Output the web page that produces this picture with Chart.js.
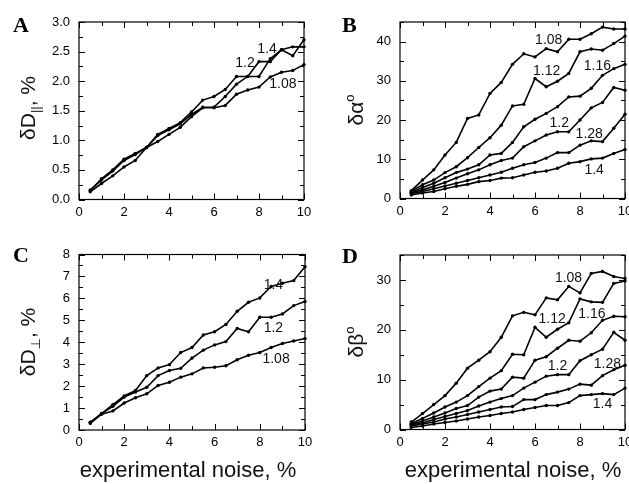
<!DOCTYPE html>
<html><head><meta charset="utf-8">
<script src="https://cdn.jsdelivr.net/npm/chart.js@4/dist/chart.umd.min.js"></script>
<style>
html,body{margin:0;padding:0;background:#fff;width:629px;height:484px;overflow:hidden;position:relative}
canvas{position:absolute}
</style></head><body>
<canvas id="cA" width="314" height="232" style="left:0px;top:0px"></canvas>
<canvas id="cB" width="315" height="232" style="left:314px;top:0px"></canvas>
<canvas id="cC" width="314" height="252" style="left:0px;top:232px"></canvas>
<canvas id="cD" width="315" height="252" style="left:314px;top:232px"></canvas>
<script>
// ---- data ----
const noise = [0.5,1,1.5,2,2.5,3,3.5,4,4.5,5,5.5,6,6.5,7,7.5,8,8.5,9,9.5,10];

// A: dD_parallel, %
const dPar108 = [0.13,0.27,0.40,0.55,0.66,0.88,0.98,1.10,1.22,1.40,1.55,1.55,1.59,1.78,1.85,1.90,2.07,2.15,2.18,2.28];
const dPar12  = [0.15,0.35,0.50,0.68,0.78,0.88,1.10,1.20,1.30,1.48,1.68,1.74,1.86,2.08,2.08,2.33,2.33,2.53,2.58,2.58];
const dPar14  = [0.16,0.33,0.48,0.66,0.76,0.88,1.08,1.18,1.28,1.44,1.56,1.56,1.74,1.95,2.08,2.08,2.38,2.53,2.43,2.70];

// B: d alpha, deg
const dAl108 = [2.0,4.7,7.3,11.1,14.3,20.4,21.3,26.8,29.6,34.2,36.9,36.1,38.2,37.4,40.6,40.6,42.0,43.7,43.2,43.2];
const dAl112 = [1.8,3.5,4.7,6.6,8.1,10.4,13.0,15.5,18.7,23.6,24.0,30.6,28.5,29.9,31.9,37.4,38.1,37.8,39.5,41.4];
const dAl116 = [1.5,2.8,3.9,5.3,6.6,7.5,8.6,11.1,11.5,14.3,18.3,20.2,21.7,23.4,25.9,26.1,28.1,31.4,33.1,34.2];
const dAl12  = [1.4,2.2,3.1,4.1,5.2,6.3,7.3,8.6,9.7,10.3,13.2,14.7,16.2,17.0,17.0,20.0,23.1,24.5,28.3,27.6];
const dAl128 = [1.2,1.8,2.5,3.2,3.9,4.6,5.3,6.0,6.7,7.7,8.6,9.2,10.3,11.7,11.7,13.6,14.7,14.5,17.9,21.5];
const dAl14  = [0.9,1.4,1.8,2.5,3.1,3.6,4.3,4.6,5.2,5.3,6.0,6.7,7.0,7.7,9.0,9.4,10.1,10.3,11.5,12.5];

// C: dD_perp, %
const dPerp108 = [0.30,0.72,0.87,1.23,1.47,1.65,2.03,2.18,2.41,2.56,2.83,2.86,2.93,3.20,3.41,3.53,3.76,3.94,4.06,4.17];
const dPerp12  = [0.35,0.75,1.08,1.50,1.73,1.95,2.48,2.71,2.81,3.28,3.64,3.88,4.03,4.63,4.48,5.14,5.14,5.29,5.67,5.86];
const dPerp14  = [0.35,0.75,1.16,1.55,1.80,2.48,2.83,2.98,3.53,3.76,4.33,4.48,4.81,5.41,5.82,6.02,6.54,6.69,6.81,7.44];

// D: d beta, deg
const dBe108 = [1.5,3.2,5.0,6.8,9.3,12.3,13.9,15.6,18.5,22.8,23.5,23.0,26.4,26.0,28.7,27.4,31.3,31.7,30.7,30.3];
const dBe112 = [1.2,2.2,3.3,4.5,5.5,6.8,8.6,10.3,11.8,15.1,15.0,20.5,18.5,20.1,21.4,26.2,25.6,25.5,29.3,29.8];
const dBe116 = [1.0,1.7,2.5,3.3,4.2,4.8,6.5,7.7,8.1,10.5,10.3,13.9,14.6,16.3,17.9,17.7,19.4,21.9,22.7,22.6];
const dBe12  = [0.9,1.3,2.0,2.6,3.2,3.8,4.7,5.5,6.2,6.8,8.3,9.5,10.7,11.0,11.0,13.8,15.0,16.1,19.5,17.9];
const dBe128 = [0.7,1.1,1.5,2.1,2.5,3.0,3.5,4.0,4.5,4.6,6.0,6.0,7.0,7.5,8.1,9.1,8.9,10.8,12.0,12.9];
const dBe14  = [0.4,0.7,1.1,1.4,1.7,2.1,2.5,2.8,3.2,3.5,4.0,4.4,4.8,4.8,5.4,6.8,7.0,7.2,7.0,8.3];

// curve labels (text, x, y in data units)
const labelsA = [['1.4',8.36,2.54],['1.2',7.38,2.30],['1.08',9.06,1.95]];
const labelsB = [['1.08',6.61,40.3],['1.12',6.52,32.5],['1.16',8.77,33.7],['1.2',7.08,19.1],['1.28',8.41,16.4],['1.4',8.63,7.2]];
const labelsC = [['1.4',8.6,6.62],['1.2',8.6,4.66],['1.08',8.72,3.23]];
const labelsD = [['1.08',7.49,30.3],['1.12',6.76,22.1],['1.16',8.53,23.2],['1.2',7.0,12.8],['1.28',9.22,13.2],['1.4',9.0,5.0]];

const xTitle = 'experimental noise, %';

// ---- drawing helpers ----
const SANS = '"Liberation Sans", Arial, "DejaVu Sans", sans-serif';

function drawRich(ctx, bx, cy, parts) {
  // rotated -90deg text; bx = baseline x, cy = center y
  ctx.save();
  ctx.translate(bx, cy);
  ctx.rotate(-Math.PI / 2);
  ctx.fillStyle = '#111';
  ctx.textBaseline = 'alphabetic';
  ctx.textAlign = 'left';
  let total = 0;
  const w = parts.map(p => { ctx.font = p.size + 'px ' + SANS; const m = ctx.measureText(p.t).width; total += m; return m; });
  let xx = -total / 2;
  parts.forEach((p, i) => {
    ctx.font = p.size + 'px ' + SANS;
    ctx.fillText(p.t, xx, p.dy);
    xx += w[i];
  });
  ctx.restore();
}

const panelPlugin = {
  id: 'panel',
  afterDraw(chart, args, o) {
    const {ctx, chartArea: a} = chart;
    const x = chart.scales.x, y = chart.scales.y;
    ctx.save();
    ctx.strokeStyle = '#000';
    ctx.lineWidth = 1;
    ctx.beginPath();
    x.ticks.forEach(t => {
      const px = Math.round(x.getPixelForValue(t.value)) + 0.5;
      const L = t.label !== '' ? 6 : 4;
      ctx.moveTo(px, a.bottom); ctx.lineTo(px, a.bottom - L);
      ctx.moveTo(px, a.top); ctx.lineTo(px, a.top + L);
    });
    y.ticks.forEach(t => {
      const py = Math.round(y.getPixelForValue(t.value)) + 0.5;
      const L = t.label !== '' ? 6 : 4;
      ctx.moveTo(a.left, py); ctx.lineTo(a.left + L, py);
      ctx.moveTo(a.right, py); ctx.lineTo(a.right - L, py);
    });
    ctx.stroke();
    ctx.lineWidth = 1.2;
    ctx.strokeRect(a.left, a.top, a.right - a.left, a.bottom - a.top);

    // curve labels
    ctx.fillStyle = '#111';
    ctx.font = '14px ' + SANS;
    ctx.textAlign = 'center';
    ctx.textBaseline = 'middle';
    o.notes.forEach(n => {
      ctx.fillText(n[0], x.getPixelForValue(n[1]), y.getPixelForValue(n[2]));
    });

    // panel letter
    ctx.font = 'bold 22px "Liberation Serif", "Times New Roman", serif';
    ctx.textAlign = 'left';
    ctx.textBaseline = 'alphabetic';
    ctx.fillStyle = '#000';
    ctx.fillText(o.letter[0], o.letter[1], o.letter[2]);

    // x title
    if (o.xtitle) {
      ctx.font = '22px ' + SANS;
      ctx.textAlign = 'center';
      ctx.fillStyle = '#111';
      ctx.fillText(xTitle, o.xtitle[0], o.xtitle[1]);
    }
    ctx.restore();
    drawRich(ctx, o.ytitle.x, o.ytitle.y, o.ytitle.parts);
  }
};

function makePanel(id, sets, yMax, yStep, yLabelEvery, yFmt, geom, plug) {
  const ctx = document.getElementById(id);
  const datasets = sets.map(s => ({
    data: noise.map((v, i) => ({x: v, y: s[i]})),
    borderColor: '#000',
    backgroundColor: '#000',
    borderWidth: 1.6,
    pointRadius: 1.7,
    pointBorderWidth: 0,
    pointBackgroundColor: '#000',
    tension: 0,
    clip: 5
  }));
  return new Chart(ctx, {
    type: 'line',
    data: {datasets},
    plugins: [panelPlugin],
    options: {
      responsive: false,
      devicePixelRatio: 1,
      animation: false,
      events: [],
      layout: {padding: {top: geom.top, right: geom.right, left: 0, bottom: 0}},
      plugins: {legend: {display: false}, tooltip: {enabled: false}, panel: plug},
      scales: {
        x: {
          type: 'linear', min: 0, max: 10,
          grid: {display: false, drawTicks: false},
          border: {display: false},
          ticks: {
            stepSize: 1, autoSkip: false, maxRotation: 0, padding: 5,
            color: '#000', font: {size: 13, family: SANS},
            callback: v => (Math.round(v) % 2 === 0 ? String(v) : '')
          },
          afterFit: s => { s.height = geom.xh; s.paddingLeft = 0; s.paddingRight = 0; }
        },
        y: {
          type: 'linear', min: 0, max: yMax,
          grid: {display: false, drawTicks: false},
          border: {display: false},
          ticks: {
            stepSize: yStep, autoSkip: false, padding: 9,
            color: '#000', font: {size: 13, family: SANS},
            callback: v => (Math.abs(v / yLabelEvery - Math.round(v / yLabelEvery)) < 1e-6 ? yFmt(v) : '')
          },
          afterFit: s => { s.width = geom.yw; s.paddingTop = 0; s.paddingBottom = 0; }
        }
      }
    }
  });
}

makePanel('cA', [dPar14, dPar12, dPar108], 3, 0.25, 0.5, v => v.toFixed(1),
  {top: 22, right: 10, xh: 232 - 199.5, yw: 79},
  {notes: labelsA, letter: ['A', 13, 32],
   ytitle: {x: 35, y: 108, parts: [{t: 'δD', size: 21, dy: 0}, {t: '||', size: 13, dy: 5}, {t: ', %', size: 21, dy: 0}]}});

makePanel('cB', [dAl108, dAl112, dAl116, dAl12, dAl128, dAl14], 45, 5, 10, v => String(v),
  {top: 22, right: 3, xh: 232 - 198.5, yw: 86},
  {notes: labelsB, letter: ['B', 28, 32],
   ytitle: {x: 49, y: 110, parts: [{t: 'δα', size: 21, dy: 0}, {t: 'o', size: 13, dy: -9}]}});

makePanel('cC', [dPerp14, dPerp12, dPerp108], 8, 0.5, 1, v => String(v),
  {top: 22.5, right: 9, xh: 252 - 198, yw: 79},
  {notes: labelsC, letter: ['C', 13, 30], xtitle: [188, 245],
   ytitle: {x: 35, y: 110, parts: [{t: 'δD', size: 21, dy: 0}, {t: '⊥', size: 13, dy: 5}, {t: ', %', size: 21, dy: 0}]}});

makePanel('cD', [dBe108, dBe112, dBe116, dBe12, dBe128, dBe14], 35, 5, 10, v => String(v),
  {top: 23, right: 3, xh: 252 - 197.5, yw: 86},
  {notes: labelsD, letter: ['D', 28, 31], xtitle: [199, 245],
   ytitle: {x: 49, y: 110, parts: [{t: 'δβ', size: 21, dy: 0}, {t: 'o', size: 13, dy: -9}]}});
</script>
</body></html>
